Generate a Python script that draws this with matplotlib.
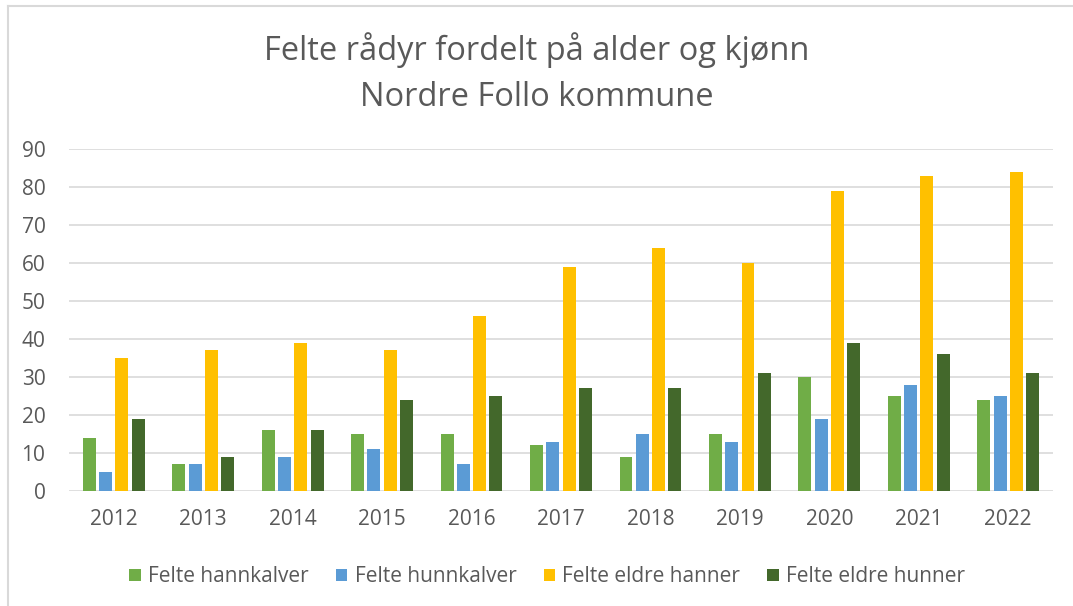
import numpy as np
import matplotlib.pyplot as plt
from matplotlib.lines import Line2D

years = ['2012', '2013', '2014', '2015', '2016', '2017', '2018', '2019', '2020', '2021', '2022']
hannkalver = [14, 7, 16, 15, 15, 12, 9, 15, 30, 25, 24]
hunnkalver = [5, 7, 9, 11, 7, 13, 15, 13, 19, 28, 25]
eldre_hanner = [35, 37, 39, 37, 46, 59, 64, 60, 79, 83, 84]
eldre_hunner = [19, 9, 16, 24, 25, 27, 27, 31, 39, 36, 31]

series = [
    ('Felte hannkalver', hannkalver, '#70AD47'),
    ('Felte hunnkalver', hunnkalver, '#5B9BD5'),
    ('Felte eldre hanner', eldre_hanner, '#FFC000'),
    ('Felte eldre hunner', eldre_hunner, '#43682B'),
]

plt.rcParams['font.family'] = ['Open Sans', 'DejaVu Sans']
text_color = '#595959'

fig = plt.figure(figsize=(10.73, 6.06), dpi=100)
ax = fig.add_axes([0.0643, 0.1898, 0.917, 0.5643])

x = np.arange(len(years))
step = 0.182
width = 0.145
for i, (label, vals, color) in enumerate(series):
    ax.bar(x + (i - 1.5) * step, vals, width, color=color, label=label, zorder=3)

ax.set_xlim(-0.5, len(years) - 0.5)
ax.set_ylim(0, 90)
ax.set_yticks(range(0, 91, 10))
ax.set_xticks(x)
ax.set_xticklabels(years)
ax.grid(axis='y', color='#D9D9D9', linewidth=1.2, zorder=0)
ax.tick_params(length=0, labelsize=15, labelcolor=text_color)
ax.tick_params(axis='y', pad=17)
ax.tick_params(axis='x', pad=13)
for s in ax.spines.values():
    s.set_visible(False)

# two-line title
fig.text(0.5, 1 - 50 / 606, 'Felte rådyr fordelt på alder og kjønn',
         ha='center', va='center', fontsize=23.5, color=text_color)
fig.text(0.5, 1 - 97 / 606, 'Nordre Follo kommune',
         ha='center', va='center', fontsize=23.5, color=text_color)

fig.legend(loc='center', bbox_to_anchor=(0.51, 1 - 577 / 606), ncol=4, frameon=False,
           fontsize=15, labelcolor=text_color, handlelength=0.55, handleheight=0.55,
           handletextpad=0.35, columnspacing=1.3)

# chart border (only left and top edges visible in the crop)
bx, by = 8 / 1073, 1 - 6 / 606
fig.add_artist(Line2D([bx, bx], [0, by], transform=fig.transFigure, color='#D9D9D9', lw=1.5))
fig.add_artist(Line2D([bx, 1], [by, by], transform=fig.transFigure, color='#D9D9D9', lw=1.5))

fig.savefig('out.png', dpi=100)
